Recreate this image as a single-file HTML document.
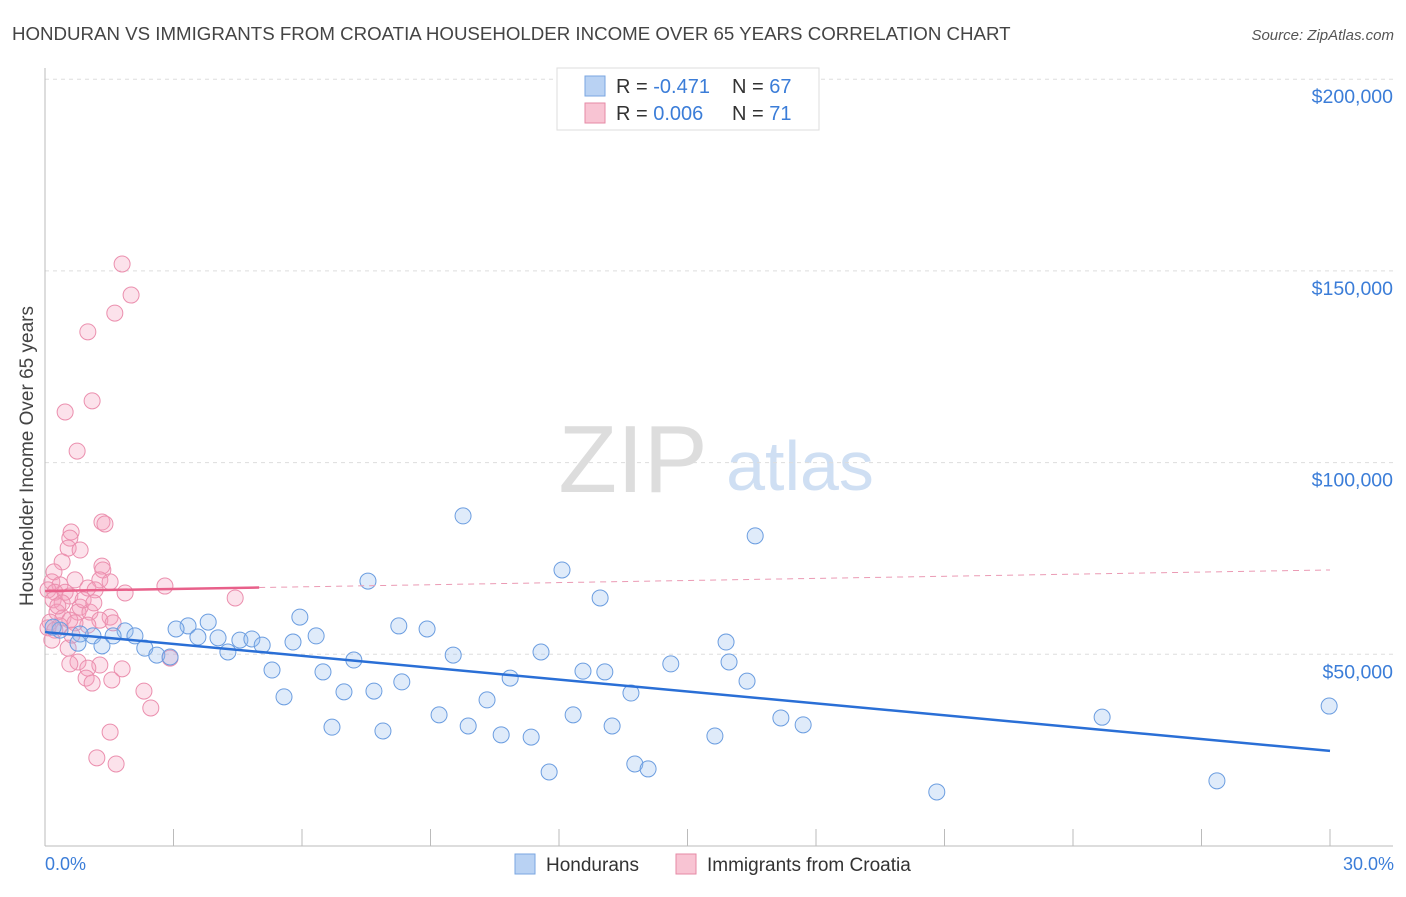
<!DOCTYPE html>
<html><head><meta charset="utf-8"><style>
body{margin:0;background:#fff;font-family:"Liberation Sans",sans-serif;}
svg text{font-family:"Liberation Sans",sans-serif;}
</style></head><body>
<svg id="c" width="1406" height="892" xmlns="http://www.w3.org/2000/svg">
<text x="12" y="40" font-size="18.7" fill="#444">HONDURAN VS IMMIGRANTS FROM CROATIA HOUSEHOLDER INCOME OVER 65 YEARS CORRELATION CHART</text>
<text x="1394" y="40" font-size="15" fill="#555" font-style="italic" text-anchor="end">Source: ZipAtlas.com</text>
<text x="633" y="492" font-size="96" fill="#ddd" font-family="Liberation Serif,serif" text-anchor="middle">ZIP</text>
<text x="800" y="490" font-size="70" fill="#cfdff3" text-anchor="middle">atlas</text>
<g id="grid"></g>
<g id="axes"></g>
<g id="pts"></g>
<g id="trend"></g>
<text transform="translate(33,456) rotate(-90)" font-size="19" fill="#444" text-anchor="middle">Householder Income Over 65 years</text>
<text x="45" y="870" font-size="18" fill="#3b7dd8">0.0%</text>
<text x="1394" y="870" font-size="18" fill="#3b7dd8" text-anchor="end">30.0%</text>
<g>
<rect x="557" y="68" width="262" height="62" fill="#fff" stroke="#ddd"/>
<rect x="585" y="76" width="20" height="20" fill="#b9d2f3" stroke="#7aa6e0"/>
<rect x="585" y="103" width="20" height="20" fill="#f8c4d3" stroke="#e68aa6"/>
<text x="616" y="93" font-size="20" fill="#333">R = <tspan fill="#3b7dd8">-0.471</tspan><tspan x="732">N = </tspan><tspan fill="#3b7dd8">67</tspan></text>
<text x="616" y="120" font-size="20" fill="#333">R = <tspan fill="#3b7dd8"> 0.006</tspan><tspan x="732">N = </tspan><tspan fill="#3b7dd8"> 71</tspan></text>
</g>
<g>
<rect x="515" y="854" width="20" height="20" fill="#b9d2f3" stroke="#7aa6e0"/>
<text x="546" y="871" font-size="19" fill="#333">Hondurans</text>
<rect x="676" y="854" width="20" height="20" fill="#f8c4d3" stroke="#e68aa6"/>
<text x="707" y="871" font-size="19" fill="#333">Immigrants from Croatia</text>
</g>
</svg>
<script>
const yTicks=[50000,100000,150000,200000];
const yTickLabels=["$50,000","$100,000","$150,000","$200,000"];
const xTicks=[0,3,6,9,12,15,18,21,24,27,30];
const blueX=[9.76,16.58,12.07,7.54,12.96,5.95,3.81,3.34,3.06,8.26,8.92,6.33,1.87,2.10,3.57,4.04,4.55,4.83,5.07,5.79,1.59,1.12,0.82,0.35,0.19,0.77,1.33,2.33,2.61,2.92,4.27,15.90,11.58,9.53,7.21,14.61,15.97,5.30,6.49,12.56,13.07,10.86,8.33,16.39,6.98,7.68,13.68,5.58,10.32,29.98,9.20,12.33,17.18,24.68,6.70,9.88,13.24,17.70,7.89,10.65,11.35,15.64,13.77,14.08,11.77,27.36,20.82];
const blueY=[86.1,80.9,72.0,69.1,64.7,59.7,58.4,57.4,56.6,57.4,56.6,54.8,56.1,54.8,54.5,54.3,53.7,54.0,52.4,53.2,54.8,54.8,55.3,56.3,57.1,52.9,52.2,51.6,49.8,49.3,50.6,53.2,50.6,49.8,48.5,47.5,48.0,45.9,45.4,45.6,45.4,43.8,42.8,43.0,40.2,40.4,39.9,38.9,38.1,36.5,34.2,34.2,33.4,33.6,31.0,31.3,31.3,31.6,30.0,29.0,28.4,28.7,21.4,20.1,19.3,17.0,14.1];
const pinkX=[1.80,2.01,1.63,1.00,1.10,0.47,0.75,1.33,1.40,0.61,0.58,0.54,0.82,0.40,0.21,1.33,1.35,2.80,4.44,0.16,0.35,0.70,1.28,1.52,1.00,0.07,0.23,0.47,0.58,1.17,1.87,0.19,0.40,0.82,0.77,1.05,0.28,1.52,0.42,0.58,1.28,0.12,1.00,1.59,0.35,0.70,0.07,0.23,0.54,0.63,2.92,0.77,1.28,0.58,1.00,1.80,0.96,1.10,1.56,2.31,2.47,1.52,1.21,1.66,0.30,0.89,0.16,1.14];
const pinkY=[151.8,143.7,139.0,134.1,116.1,113.2,103.0,84.5,84.0,81.9,80.3,77.7,77.2,74.1,71.5,73.0,72.0,67.8,64.7,68.9,68.1,69.4,69.4,68.9,67.3,66.8,66.2,66.2,65.2,66.8,66.0,64.2,63.4,62.3,61.0,61.0,61.0,59.7,59.5,58.9,58.9,58.4,57.6,58.2,57.4,58.2,56.9,56.3,51.6,55.0,49.0,48.0,47.2,47.5,46.4,46.2,43.8,42.5,43.3,40.4,36.0,29.7,23.0,21.4,62.6,64.2,53.7,63.4];
const blueTrend=[55.8,24.8];
const pinkTrend=[66.5,72.0];
const pinkSolidEnd=5.0;
const X=v=>45+v/30*1285;
const Y=k=>846-k/50*191.7;
const NS="http://www.w3.org/2000/svg";
function mk(t,a,p){const e=document.createElementNS(NS,t);for(const k in a)e.setAttribute(k,a[k]);p.appendChild(e);return e;}
const grid=document.getElementById('grid'),axes=document.getElementById('axes'),pts=document.getElementById('pts'),tr=document.getElementById('trend');
yTicks.forEach((v,i)=>{const y=Y(v/1000);
const l=mk('line',{x1:45,x2:1393,y1:y,y2:y,stroke:'#ddd','stroke-dasharray':'4,4'},grid);


const t=mk('text',{x:1393,y:y+24,'font-size':19.5,fill:'#3b7dd8','text-anchor':'end'},grid);t.textContent=yTickLabels[i];

});
const ax=mk('line',{x1:45,x2:45,y1:68,y2:846,stroke:'#bbb'},axes);


const bx=mk('line',{x1:45,x2:1393,y1:846,y2:846,stroke:'#bbb'},axes);


xTicks.forEach(v=>{const t=mk('line',{x1:X(v),x2:X(v),y1:829,y2:846,stroke:'#bbb'},axes);

});
pinkX.forEach((x,i)=>{const c=mk('circle',{cx:X(x),cy:Y(pinkY[i]),r:8,fill:'rgba(244,160,188,0.3)',stroke:'#eb8fae','stroke-width':1},pts);

});
blueX.forEach((x,i)=>{const c=mk('circle',{cx:X(x),cy:Y(blueY[i]),r:8,fill:'rgba(150,190,240,0.3)',stroke:'#6b9de0','stroke-width':1},pts);

});
const bl=mk('line',{x1:X(0),y1:Y(blueTrend[0]),x2:X(30),y2:Y(blueTrend[1]),stroke:'#2a6fd6','stroke-width':2.5},tr);


const pAt=x=>pinkTrend[0]+(pinkTrend[1]-pinkTrend[0])*x/30;
const pd=mk('line',{x1:X(pinkSolidEnd),y1:Y(pAt(pinkSolidEnd)),x2:X(30),y2:Y(pinkTrend[1]),stroke:'#eb9ab4','stroke-width':1,'stroke-dasharray':'6,5'},tr);


const ps=mk('line',{x1:X(0),y1:Y(pinkTrend[0]),x2:X(pinkSolidEnd),y2:Y(pAt(pinkSolidEnd)),stroke:'#e8608a','stroke-width':2.5},tr);


</script>
</body></html>
